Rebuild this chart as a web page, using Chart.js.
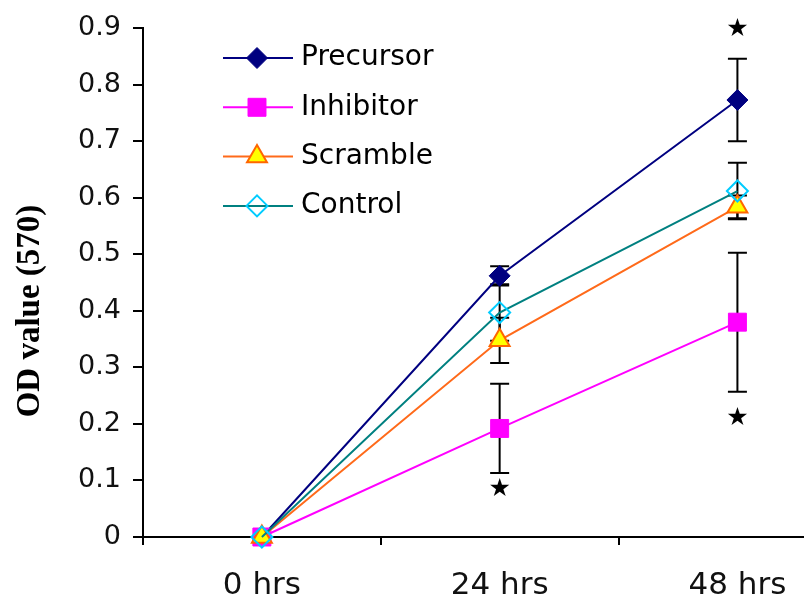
<!DOCTYPE html>
<html>
<head>
<meta charset="utf-8">
<title>OD value (570)</title>
<script src="https://cdn.jsdelivr.net/npm/chart.js@4/dist/chart.umd.min.js"></script>
<style>
html, body { margin: 0; padding: 0; overflow: hidden; background: #fff; }
#chart { display: block; }
</style>
</head>
<body>
<canvas id="chart" width="870" height="600"></canvas>
<script>
// data
var categories = ['0 hrs', '24 hrs', '48 hrs'];
var precursor = [0, 0.462, 0.773];
var precursorErr = [0, 0.017, 0.073];
var inhibitor = [0, 0.192, 0.380];
var inhibitorErr = [0, 0.079, 0.123];
var scramble = [0, 0.348, 0.584];
var scrambleErr = [0, 0.040, 0.020];
var control = [0, 0.397, 0.612];
var controlErr = [0, 0.050, 0.050];
var yMin = 0, yMax = 0.9, yStep = 0.1;
// significance marks
var starCategories = ['24 hrs', '48 hrs', '48 hrs'];
var starValues = [0.084, 0.210, 0.897];

var errors = [precursorErr, inhibitorErr, scrambleErr, controlErr];

var errorBars = {
  id: 'errorBars',
  beforeDatasetsDraw: function (chart) {
    var ctx = chart.ctx;
    var y = chart.scales.y;
    ctx.save();
    ctx.strokeStyle = '#000';
    ctx.lineWidth = 2;
    chart.data.datasets.forEach(function (ds, i) {
      var meta = chart.getDatasetMeta(i);
      meta.data.forEach(function (pt, j) {
        var e = errors[i][j];
        if (!e) return;
        var top = y.getPixelForValue(ds.data[j] + e);
        var bot = y.getPixelForValue(ds.data[j] - e);
        ctx.beginPath();
        ctx.moveTo(pt.x, top);
        ctx.lineTo(pt.x, bot);
        ctx.moveTo(pt.x - 9.5, top);
        ctx.lineTo(pt.x + 9.5, top);
        ctx.moveTo(pt.x - 9.5, bot);
        ctx.lineTo(pt.x + 9.5, bot);
        ctx.stroke();
      });
    });
    ctx.restore();
  },
  afterDatasetsDraw: function (chart) {
    var ctx = chart.ctx;
    ctx.save();
    ctx.fillStyle = '#000';
    ctx.font = '25px "DejaVu Sans"';
    ctx.textAlign = 'center';
    ctx.textBaseline = 'middle';
    starValues.forEach(function (v, k) {
      var x = chart.scales.x.getPixelForValue(categories.indexOf(starCategories[k]));
      ctx.fillText('\u2605', x, chart.scales.y.getPixelForValue(v));
    });
    ctx.restore();
  }
};

var sideLegend = {
  id: 'sideLegend',
  afterDraw: function (chart) {
    var ctx = chart.ctx;
    ctx.save();
    chart.data.datasets.forEach(function (ds, i) {
      var rowY = 58 + i * 49.3;
      ctx.strokeStyle = ds.borderColor;
      ctx.lineWidth = ds.borderWidth;
      ctx.beginPath();
      ctx.moveTo(223, rowY);
      ctx.lineTo(293, rowY);
      ctx.stroke();
      ctx.fillStyle = ds.pointBackgroundColor;
      ctx.strokeStyle = ds.pointBorderColor;
      ctx.lineWidth = ds.pointBorderWidth;
      Chart.helpers.drawPoint(ctx, {
        pointStyle: ds.pointStyle,
        rotation: 0,
        radius: ds.pointRadius,
        borderWidth: ds.pointBorderWidth
      }, 257, rowY);
      ctx.fillStyle = '#000';
      ctx.font = '28px "DejaVu Sans"';
      ctx.textAlign = 'left';
      ctx.textBaseline = 'middle';
      ctx.fillText(ds.label, 301, rowY);
    });
    // y axis title
    ctx.translate(30, 311);
    ctx.rotate(-Math.PI / 2);
    ctx.font = 'bold 33px "Liberation Serif"';
    ctx.textAlign = 'center';
    ctx.textBaseline = 'middle';
    ctx.fillStyle = '#000';
    ctx.fillText('OD value (570)', 0, 0);
    ctx.restore();
  }
};

function series(label, data, line, style, radius, fill, border, bw, order) {
  return {
    label: label,
    data: data,
    borderColor: line,
    backgroundColor: fill,
    borderWidth: 2,
    pointStyle: style,
    pointRadius: radius,
    pointBackgroundColor: fill,
    pointBorderColor: border,
    pointBorderWidth: bw,
    tension: 0,
    clip: false,
    order: order
  };
}

new Chart(document.getElementById('chart'), {
  type: 'line',
  data: {
    labels: categories,
    datasets: [
      series('Precursor', precursor, '#000080', 'rectRot', 10.5, '#000080', '#000080', 1, 4),
      series('Inhibitor', inhibitor, '#FF00FF', 'rect', 12.7, '#FF00FF', '#FF00FF', 1, 3),
      series('Scramble', scramble, '#FF6A1A', 'triangle', 11.5, '#FFFF00', '#FF6600', 2, 2),
      series('Control', control, '#008080', 'rectRot', 10.5, 'rgba(0,0,0,0)', '#00CCFF', 2, 1)
    ]
  },
  options: {
    responsive: false,
    animation: false,
    layout: { padding: { top: 23, right: 8, left: 0, bottom: 0 } },
    plugins: { legend: { display: false }, tooltip: { enabled: false } },
    scales: {
      x: {
        offset: true,
        ticks: { padding: 22, color: '#111', font: { family: 'DejaVu Sans', size: 31 } },
        grid: { offset: true, drawOnChartArea: false, tickLength: 8, color: '#000', lineWidth: 2 },
        border: { color: '#000', width: 2 },
        afterFit: function (scale) { scale.height = 63; }
      },
      y: {
        min: yMin,
        max: yMax,
        ticks: {
          stepSize: yStep,
          padding: 12,
          color: '#111',
          font: { family: 'DejaVu Sans', size: 27 },
          callback: function (v) { return v === 0 ? '0' : v.toFixed(1); }
        },
        grid: { drawOnChartArea: false, tickLength: 10, color: '#000', lineWidth: 2 },
        border: { color: '#000', width: 2 },
        afterFit: function (scale) { scale.width = 143; }
      }
    }
  },
  plugins: [errorBars, sideLegend]
});
</script>
</body>
</html>
